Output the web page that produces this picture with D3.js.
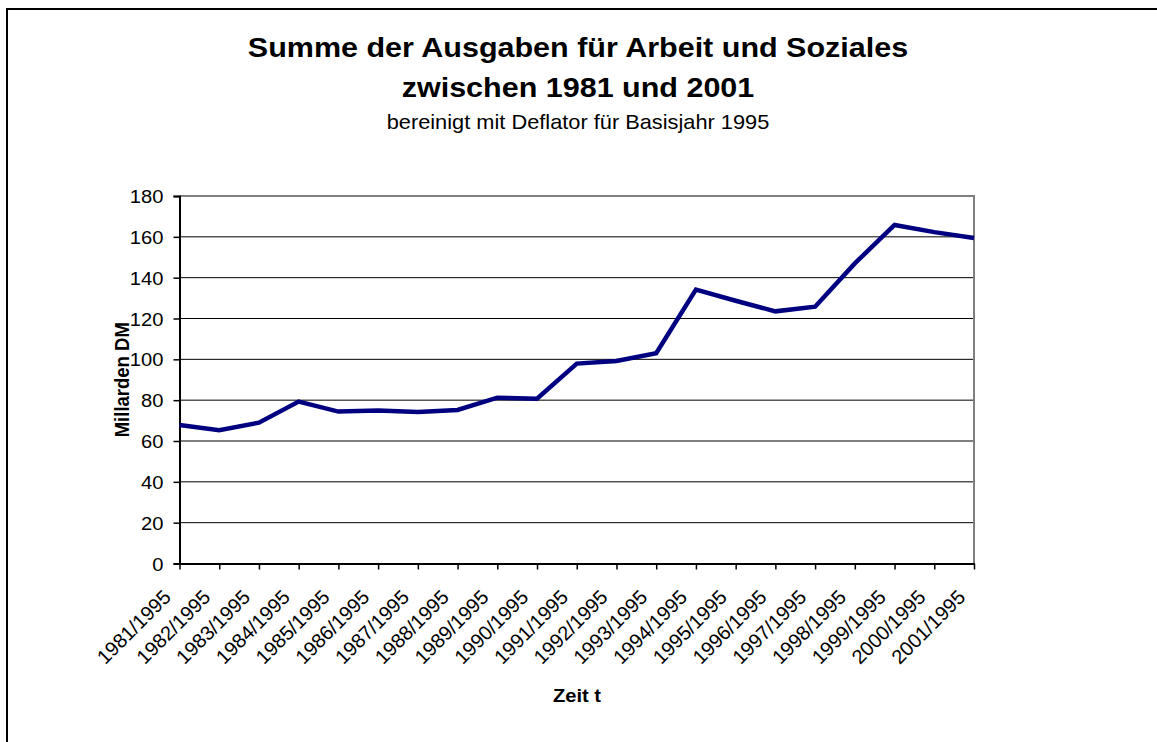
<!DOCTYPE html>
<html>
<head>
<meta charset="utf-8">
<script src="https://d3js.org/d3.v7.min.js"></script>
<style>
  body { margin: 0; background: #fff; }
  text { font-family: Arial, "Liberation Sans", sans-serif; fill: #000; }
</style>
</head>
<body>
<script>
// Werte
var years = ["1981/1995", "1982/1995", "1983/1995", "1984/1995", "1985/1995", "1986/1995",
  "1987/1995", "1988/1995", "1989/1995", "1990/1995", "1991/1995", "1992/1995", "1993/1995",
  "1994/1995", "1995/1995", "1996/1995", "1997/1995", "1998/1995", "1999/1995", "2000/1995", "2001/1995"];
var ausgaben = [67.8, 65.3, 69.0, 79.3, 74.4, 74.9, 74.2, 75.2, 81.2, 80.7, 97.9,
  99.2, 103.0, 134.2, 128.7, 123.5, 125.8, 147.0, 165.8, 162.3, 159.4];
var yTicks = [0, 20, 40, 60, 80, 100, 120, 140, 160, 180];
var titleLines = ["Summe der Ausgaben für Arbeit und Soziales", "zwischen 1981 und 2001"];
var subtitle = "bereinigt mit Deflator für Basisjahr 1995";

var width = 1157;
var height = 742;
var sx = 1.09; // die Vorlage ist horizontal leicht gestreckt

var svg = d3.select("body")
    .append("svg")
    .attr("width", width)
    .attr("height", height);

// aeusserer Rahmen
svg.append("rect")
    .attr("x", 7).attr("y", 9)
    .attr("width", 1300).attr("height", 900)
    .attr("fill", "none")
    .attr("stroke", "#000")
    .attr("stroke-width", 2);

var plot = { left: 179.5, right: 974, top: 196, bottom: 563.5 };

var xScale = d3.scalePoint()
    .domain(years)
    .range([plot.left, plot.right])
    .padding(0);
var yScale = d3.scaleLinear()
    .domain([0, 180])
    .range([plot.bottom, plot.top]);

// Titel
var cx = 578;
svg.selectAll(".title")
    .data(titleLines)
    .enter()
    .append("text")
    .attr("class", "title")
    .attr("text-anchor", "middle")
    .attr("font-weight", "bold")
    .attr("font-size", 28)
    .attr("transform", function (d, i) { return "translate(" + cx + "," + (57 + i * 40) + ") scale(" + sx + ",1)"; })
    .text(function (d) { return d; });
svg.append("text")
    .attr("text-anchor", "middle")
    .attr("font-size", 20)
    .attr("transform", "translate(" + cx + ",129) scale(" + sx + ",1)")
    .text(subtitle);

// Gitternetz
svg.append("g")
    .selectAll("line")
    .data(yTicks.slice(1, -1))
    .enter()
    .append("line")
    .attr("x1", plot.left).attr("x2", plot.right)
    .attr("y1", function (d) { return yScale(d); })
    .attr("y2", function (d) { return yScale(d); })
    .attr("stroke", "#000")
    .attr("stroke-width", 1);

// Rahmen oben und rechts (grau)
svg.append("path")
    .attr("d", "M" + plot.left + "," + yScale(180) + "H" + plot.right + "V" + plot.bottom)
    .attr("fill", "none")
    .attr("stroke", "#808080")
    .attr("stroke-width", 2);

// y-Achse
var yAxis = d3.axisLeft(yScale).tickValues(yTicks).tickSize(6).tickPadding(10);
var yAxisGroup = svg.append("g")
    .attr("transform", "translate(" + plot.left + ",0)")
    .call(yAxis);
yAxisGroup.select(".domain").attr("stroke", "#000").attr("stroke-width", 2);
yAxisGroup.selectAll(".tick line").attr("stroke", "#000").attr("stroke-width", 1.5);
yAxisGroup.selectAll(".tick text")
    .attr("font-size", 18.5)
    .attr("font-family", null)
    .attr("dy", "0.36em")
    .attr("transform", function () { return "scale(" + sx + ",1)"; })
    .attr("x", -16 / sx);

// x-Achse
var xAxis = d3.axisBottom(xScale).tickSize(6).tickSizeOuter(0);
var xAxisGroup = svg.append("g")
    .attr("transform", "translate(0," + plot.bottom + ")")
    .call(xAxis);
xAxisGroup.select(".domain").attr("stroke", "#000").attr("stroke-width", 2);
xAxisGroup.selectAll(".tick line").attr("stroke", "#000").attr("stroke-width", 1.5);
xAxisGroup.selectAll(".tick text")
    .attr("font-size", 20)
    .attr("font-family", null)
    .attr("text-anchor", "end")
    .attr("x", 0).attr("y", 0).attr("dy", 0)
    .attr("transform", "translate(-8,35) rotate(-45)");

// Achsentitel
svg.append("text")
    .attr("text-anchor", "middle")
    .attr("font-weight", "bold")
    .attr("font-size", 18.5)
    .attr("transform", "translate(129," + ((plot.top + plot.bottom) / 2) + ") rotate(-90) scale(1," + sx + ")")
    .text("Millarden DM");
svg.append("text")
    .attr("text-anchor", "middle")
    .attr("font-weight", "bold")
    .attr("font-size", 18.5)
    .attr("transform", "translate(577,702) scale(" + sx + ",1)")
    .text("Zeit t");

// Linie
var line = d3.line()
    .x(function (d, i) { return xScale(years[i]); })
    .y(function (d) { return yScale(d); });
svg.append("path")
    .datum(ausgaben)
    .attr("d", line)
    .attr("fill", "none")
    .attr("stroke", "#000080")
    .attr("stroke-width", 4.5)
    .attr("stroke-linejoin", "miter");
</script>
</body>
</html>
